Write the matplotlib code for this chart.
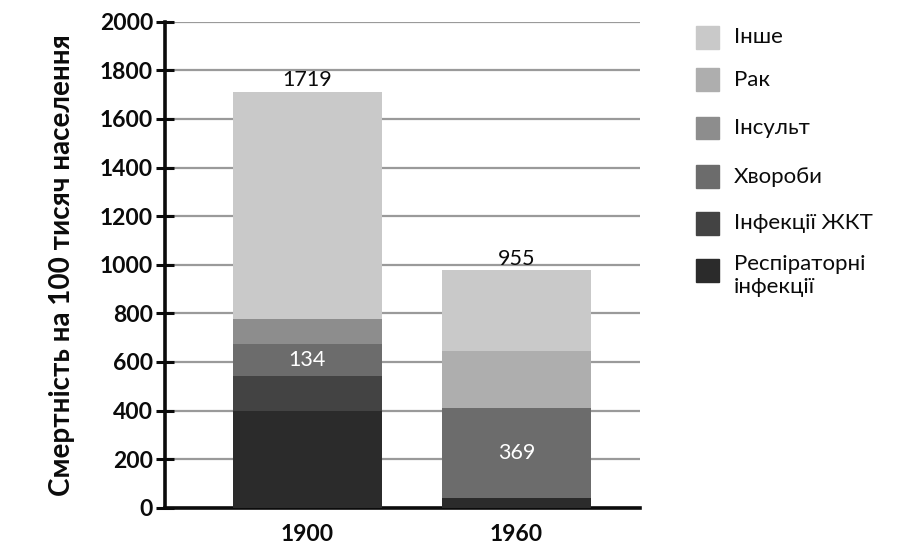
import matplotlib.pyplot as plt
from matplotlib.patches import Rectangle

plt.rcParams["font.family"] = ["Lato", "DejaVu Sans"]

YEARS = ["1900", "1960"]
# stacked from the bottom up
CAUSES = ["Респіраторні\nінфекції", "Інфекції ЖКТ", "Хвороби", "Інсульт", "Рак", "Інше"]
COLORS = ["#2b2b2b", "#434343", "#6c6c6c", "#8d8d8d", "#aeaeae", "#c9c9c9"]
VALUES = {
    "1900": [398, 143, 134, 100, 0, 937],
    "1960": [40, 0, 369, 0, 237, 332],
}
TOTAL_LABELS = ["1719", "955"]
SEGMENT_LABELS = [(0, 2, "134"), (1, 2, "369")]  # (bar, cause, text)

INK = "#0b0b0b"
GRID = "#9a9a9a"

fig = plt.figure(figsize=(9.0, 5.47), dpi=100)
ax = fig.add_axes([0.1833, 0.0718, 0.5278, 0.8885])

x = list(range(len(YEARS)))
bottoms = [0] * len(YEARS)
for i, (cause, color) in enumerate(zip(CAUSES, COLORS)):
    vals = [VALUES[y][i] for y in YEARS]
    ax.bar(x, vals, bottom=bottoms, width=0.71, color=color, zorder=3)
    for b, c, txt in SEGMENT_LABELS:
        if c == i:
            ax.text(b, bottoms[b] + vals[b] / 2, txt, ha="center", va="center",
                    color="white", fontsize=15.5, zorder=4)
    bottoms = [b + v for b, v in zip(bottoms, vals)]

for xi, top, txt in zip(x, bottoms, TOTAL_LABELS):
    ax.text(xi, top + 6, txt, ha="center", va="bottom", fontsize=15.5, color=INK, zorder=4)

ax.set_ylim(0, 2000)
ax.set_xlim(-0.68, 1.59)
ax.set_yticks(range(0, 2001, 200))
ax.set_xticks(x)
ax.set_xticklabels(YEARS)
for lab in ax.get_xticklabels() + ax.get_yticklabels():
    lab.set_fontweight("bold")
ax.tick_params(axis="y", direction="inout", length=13, width=2.2, labelsize=16.5, colors=INK, pad=2)
ax.tick_params(axis="x", length=0, labelsize=16.5, colors=INK, pad=12)
ax.yaxis.grid(True, color=GRID, linewidth=1.6)
ax.set_axisbelow(True)
for side in ("top", "right"):
    ax.spines[side].set_visible(False)
for side in ("left", "bottom"):
    ax.spines[side].set_linewidth(2.6)
    ax.spines[side].set_color(INK)
ax.set_ylabel("Смертність на 100 тисяч населення", fontsize=20, fontweight="bold",
              color=INK, labelpad=18)

# legend, top entry first
leg_y = [0.932, 0.854, 0.766, 0.677, 0.592, 0.506]
for i, yy in zip(reversed(range(len(CAUSES))), leg_y):
    fig.patches.append(Rectangle((0.773, yy - 0.021), 0.0256, 0.042, transform=fig.transFigure,
                                 color=COLORS[i]))
    if "\n" in CAUSES[i]:
        fig.text(0.815, yy + 0.029, CAUSES[i], va="top", fontsize=16, color=INK, linespacing=1.15)
    else:
        fig.text(0.815, yy, CAUSES[i], va="center", fontsize=16, color=INK)

fig.savefig("out.png", facecolor="white")
